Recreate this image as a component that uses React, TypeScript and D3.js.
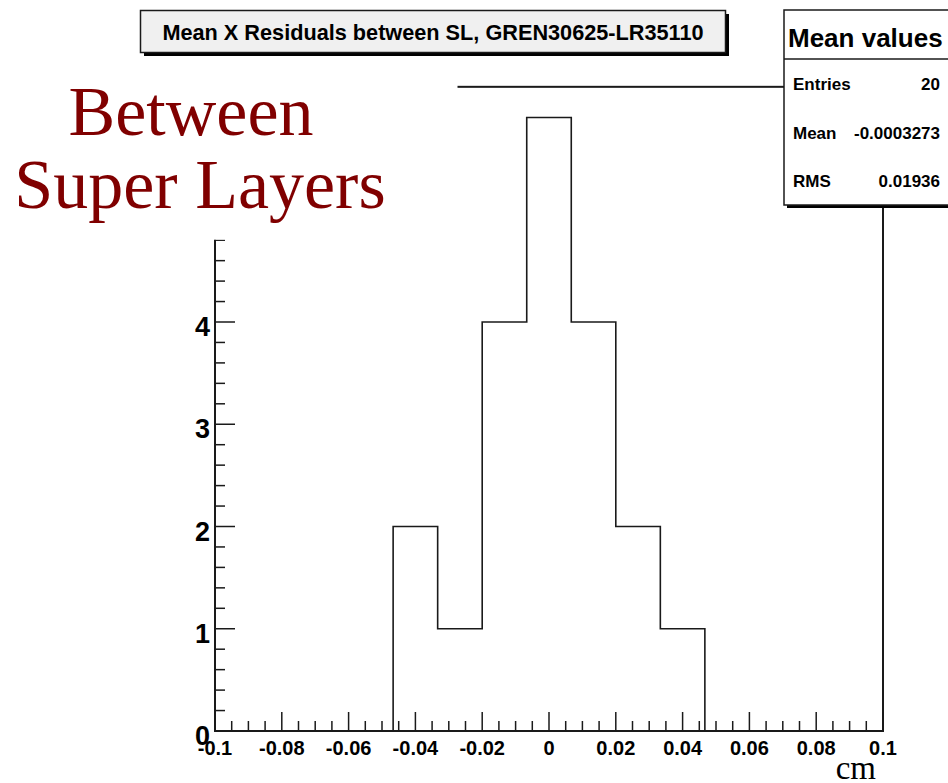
import React from "react";
import * as d3 from "d3";

// Histogram: 15 bins over [-0.1, 0.1] cm
const binRange: [number, number] = [-0.1, 0.1];
const binCounts = [0, 0, 0, 0, 2, 1, 4, 6, 4, 2, 1, 0, 0, 0, 0];

const xTickValues = [-0.1, -0.08, -0.06, -0.04, -0.02, 0, 0.02, 0.04, 0.06, 0.08, 0.1];
const xTickLabels = ["-0.1", "-0.08", "-0.06", "-0.04", "-0.02", "0", "0.02", "0.04", "0.06", "0.08", "0.1"];
const yTickValues = [0, 1, 2, 3, 4];

const titleText = "Mean X Residuals between SL, GREN30625-LR35110";
const statsHeader = "Mean values";
const statsNames = ["Entries", "Mean", "RMS"];
const statsValues = ["20", "-0.0003273", "0.01936"];
const captionLines = ["Between", "Super Layers"];
const xUnit = "cm";

const W = 948;
const H = 783;
const LEFT = 215;
const RIGHT = 883;
const BOTTOM = 731;
const UNIT_PX = 102.25;
const Y_MAX = 6.3;
const AXIS_TOP = 4.8; // the caption panel hides the axis above this value

const sans = "'Liberation Sans', Arial, Helvetica, sans-serif";
const serif = "'Liberation Serif', 'Times New Roman', serif";
const ink = "#1a1a1a";

export default function App() {
  const x = d3.scaleLinear().domain(binRange).range([LEFT, RIGHT]);
  const y = d3.scaleLinear().domain([0, Y_MAX]).range([BOTTOM, BOTTOM - Y_MAX * UNIT_PX]);
  const top = y(Y_MAX);

  const nBins = binCounts.length;
  const edges = d3.range(nBins + 1).map((k) => binRange[0] + ((binRange[1] - binRange[0]) * k) / nBins);

  const pts: [number, number][] = [[edges[0], 0]];
  binCounts.forEach((c, i) => {
    pts.push([edges[i], c]);
    pts.push([edges[i + 1], c]);
  });
  pts.push([edges[nBins], 0]);
  const histPath = d3.line<[number, number]>().x((d) => x(d[0])).y((d) => y(d[1]))(pts) || "";

  const xMinor = d3.range(0, 41).map((k) => binRange[0] + k * 0.005);
  const yMinor = d3.range(0, Math.round(AXIS_TOP / 0.2) + 1).map((k) => k * 0.2);
  const panelBottom = y(AXIS_TOP) - 0.5;

  return (
    <div style={{ position: "absolute", left: 0, top: 0 }}>
      <svg width={W} height={H} style={{ display: "block", background: "#fff" }}>
        {/* frame */}
        <rect x={LEFT} y={top} width={RIGHT - LEFT} height={BOTTOM - top} fill="none" stroke={ink} strokeWidth={2} />

        {/* histogram outline */}
        <path d={histPath} fill="none" stroke={ink} strokeWidth={1.6} />

        {/* x axis ticks */}
        {xMinor.map((v, i) => {
          const major = i % 4 === 0;
          return (
            <line key={"xm" + i} x1={x(v)} x2={x(v)} y1={BOTTOM} y2={BOTTOM - (major ? 19 : 10)} stroke={ink} strokeWidth={1.5} />
          );
        })}
        {xTickValues.map((v, i) => (
          <text key={"xl" + i} x={x(v)} y={755} textAnchor="middle" fontFamily={sans} fontWeight="bold" fontSize={20} fill="#000">
            {xTickLabels[i]}
          </text>
        ))}

        {/* y axis ticks */}
        {yMinor.map((v, i) => {
          const major = i % 5 === 0;
          return (
            <line key={"ym" + i} x1={LEFT} x2={LEFT + (major ? 20 : 10)} y1={y(v)} y2={y(v)} stroke={ink} strokeWidth={1.5} />
          );
        })}
        {yTickValues.map((v) => (
          <text key={"yl" + v} x={210} y={y(v) + 14} textAnchor="end" fontFamily={sans} fontWeight="bold" fontSize={27} fill="#000">
            {v}
          </text>
        ))}

        <text x={876} y={779} textAnchor="end" fontFamily={serif} fontSize={33} fill="#000">
          {xUnit}
        </text>

        {/* caption */}
        <rect x={0} y={58} width={457.5} height={panelBottom - 58} fill="#fff" />
        <text x={191} y={135} textAnchor="middle" fontFamily={serif} fontSize={70} fill="#800000">
          {captionLines[0]}
        </text>
        <text x={200} y={208} textAnchor="middle" fontFamily={serif} fontSize={70} fill="#800000">
          {captionLines[1]}
        </text>

        {/* title box */}
        <rect x={144} y={14} width={585} height={42} fill="#000" />
        <rect x={140.5} y={10.5} width={585} height={42} fill="#f0f0f0" stroke={ink} strokeWidth={1.5} />
        <text x={433} y={40} textAnchor="middle" fontFamily={sans} fontWeight="bold" fontSize={21.7} fill="#000">
          {titleText}
        </text>

        {/* statistics box */}
        <rect x={787} y={13} width={200} height={195} fill="#000" />
        <rect x={784} y={10} width={200} height={195} fill="#fff" stroke={ink} strokeWidth={1.5} />
        <line x1={784} x2={W} y1={59} y2={59} stroke={ink} strokeWidth={1.5} />
        <text x={788} y={47} fontFamily={sans} fontWeight="bold" fontSize={26} fill="#000">
          {statsHeader}
        </text>
        {statsNames.map((name, i) => (
          <g key={name}>
            <text x={793} y={90 + i * 48.5} fontFamily={sans} fontWeight="bold" fontSize={17} fill="#000">
              {name}
            </text>
            <text x={940} y={90 + i * 48.5} textAnchor="end" fontFamily={sans} fontWeight="bold" fontSize={17} fill="#000">
              {statsValues[i]}
            </text>
          </g>
        ))}
      </svg>
    </div>
  );
}
